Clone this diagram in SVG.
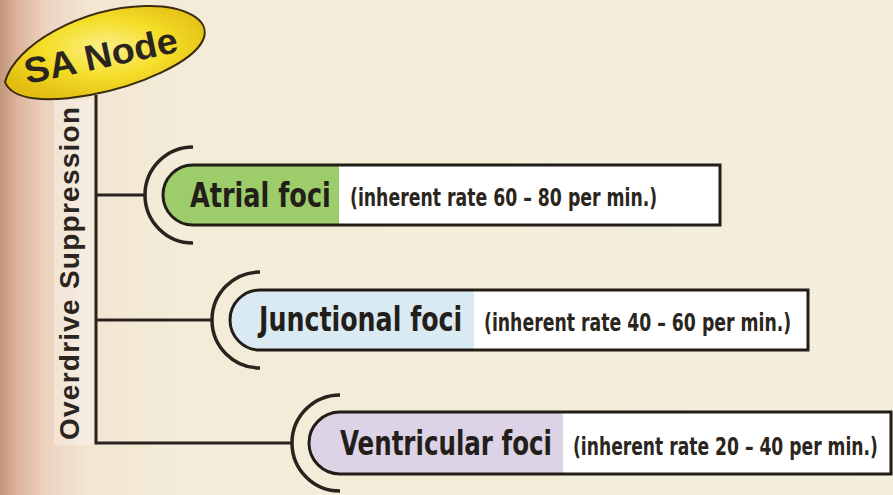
<svg xmlns="http://www.w3.org/2000/svg" width="893" height="495" viewBox="0 0 893 495">
  <defs>
    <linearGradient id="bg" x1="0" y1="0" x2="1" y2="0">
      <stop offset="0" stop-color="#c4967a"/>
      <stop offset="0.02" stop-color="#deb49c"/>
      <stop offset="0.05" stop-color="#ecd2bf"/>
      <stop offset="0.1" stop-color="#f2e6d3"/>
      <stop offset="0.2" stop-color="#f3ecd8"/>
      <stop offset="1" stop-color="#f2eedb"/>
    </linearGradient>
    <radialGradient id="sa" cx="0.5" cy="0.45" r="0.6">
      <stop offset="0" stop-color="#fbf08a"/>
      <stop offset="0.5" stop-color="#f5de2a"/>
      <stop offset="1" stop-color="#e2bd10"/>
    </radialGradient>
    <style>
      .conn { fill: none; stroke: #2a221c; stroke-width: 3; stroke-linejoin: miter; }
      .arc { fill: none; stroke: #2a221c; stroke-width: 3.5; stroke-linecap: butt; }
      .bar { fill: #ffffff; }
      .outline { fill: none; stroke: #231d18; stroke-width: 3; }
      .name { font-family: "DejaVu Sans Condensed", "DejaVu Sans", sans-serif; font-weight: bold; font-size: 34px; fill: #231e1a; }
      .rate { font-family: "DejaVu Sans Condensed", "DejaVu Sans", sans-serif; font-weight: bold; font-size: 25px; fill: #2b2520; }
      .label { font-family: "Liberation Sans", Arial, sans-serif; fill: #2b2520; }
    </style>
  </defs>

  <rect x="0" y="0" width="893" height="495" fill="url(#bg)"/>
  <rect x="54" y="100" width="39" height="345" fill="#ffffff" opacity="0.3"/>

  <g id="connectors">
    <path class="conn" d="M96,95 V443 H292"/>
    <path class="conn" d="M96,195 H145"/>
    <path class="conn" d="M96,320 H212"/>
  </g>

  <g id="sa-node">
    <path d="M5,82 C15,45 80,8 145,6 C185,5 212,20 203,40 C193,62 140,86 90,95 C45,103 12,100 5,82 Z" fill="url(#sa)" stroke="#3a2c10" stroke-width="2"/>
    <text class="label" font-size="36" font-weight="bold" textLength="156" lengthAdjust="spacingAndGlyphs" transform="translate(27,84) rotate(-12)">SA Node</text>
  </g>

  <g id="overdrive-label">
    <text class="label" font-size="28" font-weight="bold" textLength="333" lengthAdjust="spacing" transform="translate(79,440) rotate(-90)">Overdrive Suppression</text>
  </g>

  <g id="atrial">
    <path class="arc" d="M193,147 A48,48 0 0 0 193,243"/>
    <path class="bar" d="M720,165 H193 A30,30 0 0 0 193,225 H720 Z"/>
    <path fill="#9dcd6b" d="M339,165 H193 A30,30 0 0 0 193,225 H339 Z"/>
    <path class="outline" d="M720,165 H193 A30,30 0 0 0 193,225 H720 Z"/>
    <text class="name" transform="translate(190,207) scale(0.8,1)" textLength="176" lengthAdjust="spacingAndGlyphs">Atrial foci</text>
    <text class="rate" transform="translate(350,206) scale(0.77,1)" textLength="399" lengthAdjust="spacingAndGlyphs">(inherent rate 60 – 80 per min.)</text>
  </g>

  <g id="junctional">
    <path class="arc" d="M260,272 A48,48 0 0 0 260,368"/>
    <path class="bar" d="M808,290 H260 A30,30 0 0 0 260,350 H808 Z"/>
    <path fill="#d9eaf2" d="M474,290 H260 A30,30 0 0 0 260,350 H474 Z"/>
    <path class="outline" d="M808,290 H260 A30,30 0 0 0 260,350 H808 Z"/>
    <text class="name" transform="translate(259,331) scale(0.8,1)" textLength="254" lengthAdjust="spacingAndGlyphs">Junctional foci</text>
    <text class="rate" transform="translate(484,331) scale(0.77,1)" textLength="399" lengthAdjust="spacingAndGlyphs">(inherent rate 40 – 60 per min.)</text>
  </g>

  <g id="ventricular">
    <path class="arc" d="M340,395 A48,48 0 0 0 340,491"/>
    <path class="bar" d="M891,412 H340 A31,31 0 0 0 340,474 H891 Z"/>
    <path fill="#dcd3e6" d="M563,412 H340 A31,31 0 0 0 340,474 H563 Z"/>
    <path class="outline" d="M891,412 H340 A31,31 0 0 0 340,474 H891 Z"/>
    <text class="name" transform="translate(340,455) scale(0.8,1)" textLength="265" lengthAdjust="spacingAndGlyphs">Ventricular foci</text>
    <text class="rate" transform="translate(573,455) scale(0.77,1)" textLength="396" lengthAdjust="spacingAndGlyphs">(inherent rate 20 – 40 per min.)</text>
  </g>
</svg>
